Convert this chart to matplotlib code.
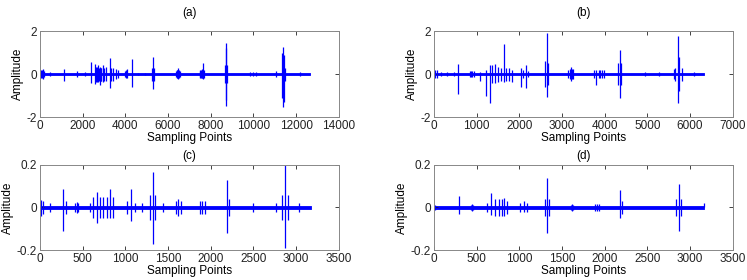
import numpy as np
import matplotlib.pyplot as plt

plt.rcParams['font.family'] = ['Liberation Sans', 'DejaVu Sans']
plt.rcParams['font.size'] = 8

# spike positions and upper / lower peaks
# (a)
a_pos = [30, 80, 120, 160, 200, 470, 1120, 1750, 2100, 2370, 2580, 2620, 2650, 2690, 2720, 2760,
         2800, 2840, 2880, 2950, 3020, 3100, 3280, 3350, 3440, 3550, 3650, 3980, 4020, 4050,
         4100, 4290, 4600, 4900, 5230, 5280, 5330, 6360, 6400, 6430, 6480, 6520, 6550,
         7480, 7520, 7550, 7570, 7600, 7620, 7680, 8650, 8700, 8730, 8770, 9830, 10000,
         10140, 11080, 11350, 11400, 11430, 11470, 12170]
a_hi = [0.2, 0.2, 0.25, 0.2, 0.15, 0.1, 0.25, 0.15, 0.1, 0.55, 0.45, 0.35, 0.3, 0.35, 0.4, 0.3,
        0.35, 0.3, 0.3, 0.4, 0.3, 0.35, 0.75, 0.3, 0.3, 0.25, 0.2, 0.15, 0.15, 0.2,
        0.25, 0.7, 0.06, 0.06, 0.3, 0.8, 0.3, 0.15, 0.2, 0.2, 0.3, 0.2, 0.15,
        0.15, 0.2, 0.2, 0.25, 0.2, 0.5, 0.2, 0.4, 1.45, 1.2, 0.4, 0.08, 0.08,
        0.08, 0.12, 1.0, 1.25, 0.9, 0.3, 0.08]
a_lo = [-0.2, -0.2, -0.25, -0.2, -0.15, -0.1, -0.3, -0.15, -0.1, -0.4, -0.45, -0.35, -0.3, -0.35, -0.35, -0.3,
        -0.5, -0.3, -0.3, -0.35, -0.3, -0.3, -0.65, -0.3, -0.3, -0.25, -0.2, -0.15, -0.15, -0.2,
        -0.2, -0.6, -0.06, -0.06, -0.3, -0.7, -0.3, -0.15, -0.2, -0.2, -0.25, -0.2, -0.15,
        -0.15, -0.2, -0.2, -0.2, -0.2, -0.25, -0.2, -0.4, -1.5, -1.2, -0.4, -0.08, -0.08,
        -0.08, -0.12, -1.1, -1.55, -1.3, -0.3, -0.08]
a_end = 12650

# (b)
b_pos = [20, 60, 160, 300, 470, 570, 840, 870, 900, 930, 1075, 1210, 1310, 1370, 1430, 1500,
         1560, 1640, 1690, 1750, 1830, 2030, 2080, 2145, 2200, 2600, 2640, 2680, 3150, 3180,
         3210, 3240, 3260, 3740, 3800, 3860, 3880, 3940, 3980, 4320, 4350, 4380, 4950, 5270,
         5620, 5650, 5710, 5750, 5800, 6100]
b_hi = [0.2, 0.2, 0.1, 0.1, 0.1, 0.45, 0.15, 0.15, 0.15, 0.15, 0.1, 0.2, 0.4, 0.4, 0.45, 0.35,
        0.3, 1.4, 0.3, 0.3, 0.2, 0.3, 0.2, 0.4, 0.15, 0.6, 1.9, 0.5, 0.2, 0.25, 0.35, 0.25, 0.25,
        0.2, 0.2, 0.2, 0.2, 0.2, 0.2, 0.5, 1.1, 0.5, 0.1, 0.1,
        0.25, 0.3, 1.75, 0.8, 0.3, 0.1]
b_lo = [-0.2, -0.2, -0.1, -0.1, -0.1, -0.95, -0.15, -0.15, -0.15, -0.15, -0.3, -1.0, -1.35, -0.4, -0.4, -0.35,
        -0.3, -0.35, -0.3, -0.3, -0.35, -0.6, -0.2, -0.65, -0.15, -0.6, -1.05, -0.5, -0.2, -0.25, -0.3, -0.25, -0.25,
        -0.2, -0.5, -0.2, -0.2, -0.2, -0.2, -0.5, -1.1, -0.5, -0.1, -0.1,
        -0.25, -0.3, -1.35, -0.8, -0.3, -0.1]
b_end = 6330

# (c)
c_pos = [10, 40, 120, 275, 300, 410, 430, 450, 585, 625, 665, 700, 740, 780, 820, 860, 1015,
         1070, 1110, 1200, 1290, 1320, 1350, 1445, 1590, 1620, 1650, 1870, 1900, 1930,
         2185, 2210, 2500, 2770, 2840, 2870, 2900, 3040]
c_hi = [0.035, 0.03, 0.02, 0.085, 0.03, 0.02, 0.025, 0.02, 0.02, 0.05, 0.075, 0.05, 0.05, 0.05,
        0.085, 0.05, 0.03, 0.085, 0.02, 0.02, 0.06, 0.165, 0.06, 0.02, 0.03, 0.04, 0.03,
        0.03, 0.03, 0.03, 0.13, 0.04, 0.02, 0.02, 0.06, 0.2, 0.06, 0.02]
c_lo = [-0.04, -0.03, -0.02, -0.11, -0.03, -0.02, -0.025, -0.02, -0.02, -0.05, -0.075, -0.05,
        -0.05, -0.05, -0.05, -0.05, -0.03, -0.065, -0.02, -0.02, -0.06, -0.17, -0.06, -0.02,
        -0.03, -0.04, -0.03, -0.03, -0.03, -0.03, -0.12, -0.04, -0.02, -0.02, -0.06, -0.19, -0.06, -0.02]
c_end = 3170

# (d)
d_pos = [10, 290, 430, 440, 455, 620, 670, 720, 760, 800, 825, 860, 1010, 1050, 1090, 1300,
         1325, 1350, 1600, 1615, 1630, 1890, 1910, 1930, 2180, 2200, 2840, 2865, 2890, 3165]
d_hi = [0.01, 0.055, 0.012, 0.015, 0.012, 0.02, 0.07, 0.04, 0.04, 0.04, 0.045, 0.03, 0.02, 0.03,
        0.02, 0.04, 0.14, 0.04, 0.012, 0.015, 0.012, 0.015, 0.015, 0.015, 0.08, 0.03, 0.04,
        0.11, 0.04, 0.02]
d_lo = [-0.01, -0.03, -0.012, -0.015, -0.012, -0.02, -0.035, -0.04, -0.04, -0.04, -0.04, -0.03,
        -0.02, -0.02, -0.02, -0.04, -0.12, -0.04, -0.012, -0.015, -0.012, -0.015, -0.015,
        -0.015, -0.05, -0.03, -0.04, -0.11, -0.04, 0.0]
d_end = 3165

panels = [
    ('(a)', a_pos, a_hi, a_lo, a_end, 0.035, 14000, 2),
    ('(b)', b_pos, b_hi, b_lo, b_end, 0.035, 7000, 2),
    ('(c)', c_pos, c_hi, c_lo, c_end, 0.006, 3500, 0.2),
    ('(d)', d_pos, d_hi, d_lo, d_end, 0.005, 3500, 0.2),
]

rects = [
    [0.0535, 0.582, 0.400, 0.307],
    [0.581, 0.582, 0.400, 0.307],
    [0.0535, 0.107, 0.400, 0.304],
    [0.581, 0.107, 0.400, 0.304],
]

fig = plt.figure(figsize=(7.47, 2.8), dpi=100)

for i, (title, pos, hi, lo, end, noise, xmax, ylim) in enumerate(panels):
    ax = fig.add_axes(rects[i])
    ax.fill_between([0, end], [-noise, -noise], [noise, noise], color='#0000ff', lw=0.6)
    ax.vlines(pos, lo, hi, color='#0000ff', lw=0.9)
    ax.set_xlim(0, xmax)
    ax.set_ylim(-ylim, ylim)
    ax.set_yticks([-ylim, 0, ylim])
    ax.set_yticklabels([f'{-ylim:g}', '0', f'{ylim:g}'])
    ax.set_xticks(np.arange(0, xmax + 1, xmax / 7))
    ax.tick_params(direction='in', top=True, right=True, length=3, width=0.6,
                   labelsize=8.5, pad=2, colors='#222222')
    for s in ax.spines.values():
        s.set_color('#888888')
        s.set_linewidth(0.7)
    ax.set_xlabel('Sampling Points', fontsize=8.5, labelpad=0)
    ax.set_ylabel('Amplitude', fontsize=8.5, labelpad=2)
    ax.set_title(title, fontsize=8.5, pad=11 if i < 2 else 4)

fig.savefig('out.png', dpi=100)
